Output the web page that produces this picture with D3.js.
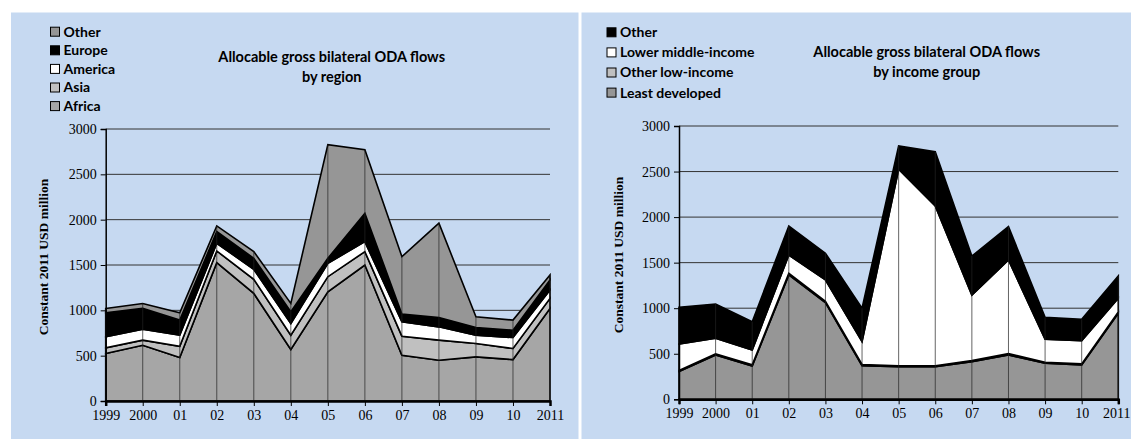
<!DOCTYPE html>
<html>
<head>
<meta charset="utf-8">
<script src="https://cdn.jsdelivr.net/npm/d3@7"></script>
<style>
  body { margin: 0; background: #fff; }
  svg { display: block; }
</style>
</head>
<body>
<script>
// years on the x axis and their tick labels
var years = [1999, 2000, 2001, 2002, 2003, 2004, 2005, 2006, 2007, 2008, 2009, 2010, 2011];
var yearLabels = ["1999", "2000", "01", "02", "03", "04", "05", "06", "07", "08", "09", "10", "2011"];
var yTicks = [0, 500, 1000, 1500, 2000, 2500, 3000];

// by region (USD million)
var africa  = [523, 615, 479, 1526, 1187, 568, 1205, 1500, 505, 450, 487, 457, 1021];
var asia    = [63, 56, 125, 129, 155, 158, 166, 148, 210, 221, 147, 122, 111];
var america = [122, 121, 122, 85, 110, 129, 148, 110, 159, 147, 92, 121, 92];
var europe  = [265, 229, 166, 129, 122, 129, 55, 313, 84, 103, 85, 81, 110];
var otherR  = [48, 55, 81, 62, 74, 92, 1253, 701, 634, 1040, 118, 111, 56];
var regionKeys = ["Africa", "Asia", "America", "Europe", "Other"];

// by income group
var leastDev  = [304, 487, 366, 1365, 1061, 370, 359, 359, 413, 487, 395, 377, 944];
var otherLow  = [12, 12, 12, 18, 14, 12, 10, 10, 12, 14, 12, 12, 15];
var lowerMid  = [291, 171, 163, 201, 235, 251, 2156, 1753, 720, 1028, 252, 255, 150];
var otherInc  = [403, 376, 311, 319, 293, 366, 256, 596, 428, 366, 241, 234, 245];
var incomeKeys = ["Least developed", "Other low-income", "Lower middle-income", "Other"];

var svg = d3.select("body").append("svg")
  .attr("width", 1131)
  .attr("height", 439);

// panel backgrounds
svg.append("rect").attr("x", 11).attr("y", 12.5).attr("width", 567.5).attr("height", 427).attr("fill", "#c6d9f1");
svg.append("rect").attr("x", 581.5).attr("y", 12.5).attr("width", 550).attr("height", 427).attr("fill", "#c6d9f1");

function rows(keys, series) {
  return years.map(function(yr, i) {
    var o = { year: yr };
    keys.forEach(function(k, j) { o[k] = series[j][i]; });
    return o;
  });
}

function drawChart(cfg) {
  var data = rows(cfg.keys, cfg.series);
  var x = d3.scalePoint().domain(years).range(cfg.xr);
  var y = d3.scaleLinear().domain([0, 3000]).range(cfg.yr);
  var g = svg.append("g");

  // gridlines
  g.append("g").selectAll("line")
    .data(yTicks.slice(1))
    .enter().append("line")
    .attr("x1", cfg.xr[0]).attr("x2", cfg.xr[1])
    .attr("y1", function(d) { return y(d); })
    .attr("y2", function(d) { return y(d); })
    .attr("stroke", "#333").attr("stroke-width", 1);

  var stacked = d3.stack().keys(cfg.keys)(data);
  var area = d3.area()
    .x(function(d) { return x(d.data.year); })
    .y0(function(d) { return y(d[0]); })
    .y1(function(d) { return y(d[1]); });

  g.append("g").selectAll("path")
    .data(stacked)
    .enter().append("path")
    .attr("d", area)
    .attr("fill", function(d, i) { return cfg.colors[i]; })
    .attr("stroke", "#000")
    .attr("stroke-width", 1.6)
    .attr("stroke-linejoin", "miter");

  // drop lines
  var top = stacked[stacked.length - 1];
  g.append("g").selectAll("line")
    .data(top)
    .enter().append("line")
    .attr("x1", function(d) { return x(d.data.year); })
    .attr("x2", function(d) { return x(d.data.year); })
    .attr("y1", y(0))
    .attr("y2", function(d) { return y(d[1]); })
    .attr("stroke", "#222").attr("stroke-width", 0.7);

  // axes
  var ya = g.append("g")
    .attr("transform", "translate(" + cfg.xr[0] + ",0)")
    .call(d3.axisLeft(y).tickValues(yTicks).tickSize(5).tickPadding(4).tickFormat(d3.format("d")));
  ya.select(".domain").attr("stroke-width", 1.5);
  var xa = g.append("g")
    .attr("transform", "translate(0," + y(0) + ")")
    .call(d3.axisBottom(x).tickSize(5).tickPadding(4).tickFormat(function(d, i) { return yearLabels[i]; }));
  xa.select(".domain").attr("stroke-width", 2.5);
  g.selectAll(".tick text")
    .attr("font-family", "Liberation Serif, serif")
    .style("font-family", "'Liberation Serif', serif")
    .style("font-size", "14px")
    .attr("fill", "#000");
  if (cfg.shiftLast) {
    xa.selectAll(".tick text").filter(function(d) { return d === 2011; }).attr("dx", cfg.shiftLast);
  }

  g.append("text")
    .attr("transform", "translate(" + cfg.ylab[0] + "," + cfg.ylab[1] + ") rotate(-90)")
    .attr("text-anchor", "middle")
    .attr("dy", "0.35em")
    .style("font-family", "'Liberation Serif', serif")
    .style("font-weight", "bold")
    .style("font-size", "13.5px")
    .text("Constant 2011 USD million");

  // title
  var t = g.append("text")
    .attr("text-anchor", "middle")
    .style("font-family", "Lato, sans-serif")
    .style("font-weight", "bold")
    .style("font-size", "14.5px");
  cfg.title.forEach(function(line, i) {
    t.append("tspan").attr("x", cfg.titlePos[0]).attr("y", cfg.titlePos[1] + i * 19.4).attr("dy", "0.35em").text(line);
  });

  // legend, top entry is the top series
  var lg = g.append("g").selectAll("g")
    .data(cfg.keys.slice().reverse())
    .enter().append("g")
    .attr("transform", function(d, i) { return "translate(" + cfg.legPos[0] + "," + (cfg.legPos[1] + i * cfg.legStep) + ")"; });
  lg.append("rect")
    .attr("x", 0).attr("y", -4.5).attr("width", 9).attr("height", 9)
    .attr("fill", function(d, i) { return cfg.colors[cfg.keys.length - 1 - i]; })
    .attr("stroke", "#000").attr("stroke-width", 1);
  lg.append("text")
    .attr("x", 13).attr("dy", "0.35em")
    .style("font-family", "Lato, sans-serif")
    .style("font-weight", "bold")
    .style("font-size", "14px")
    .text(function(d) { return d; });
}

drawChart({
  keys: regionKeys,
  series: [africa, asia, america, europe, otherR],
  colors: ["#a6a6a6", "#c0c0c0", "#ffffff", "#000000", "#969696"],
  xr: [105.7, 550],
  yr: [401, 129],
  ylab: [43, 257],
  title: ["Allocable gross bilateral ODA flows", "by region"],
  titlePos: [331.7, 57.3],
  legPos: [50.5, 31.7],
  legStep: 18.6
});

drawChart({
  keys: incomeKeys,
  series: [leastDev, otherLow, lowerMid, otherInc],
  colors: ["#969696", "#c0c0c0", "#ffffff", "#000000"],
  xr: [679, 1118.3],
  yr: [399.3, 126],
  ylab: [618, 255],
  title: ["Allocable gross bilateral ODA flows", "by income group"],
  titlePos: [926.7, 52.3],
  legPos: [607, 32.3],
  legStep: 20.1,
  shiftLast: -2
});
</script>
</body>
</html>
